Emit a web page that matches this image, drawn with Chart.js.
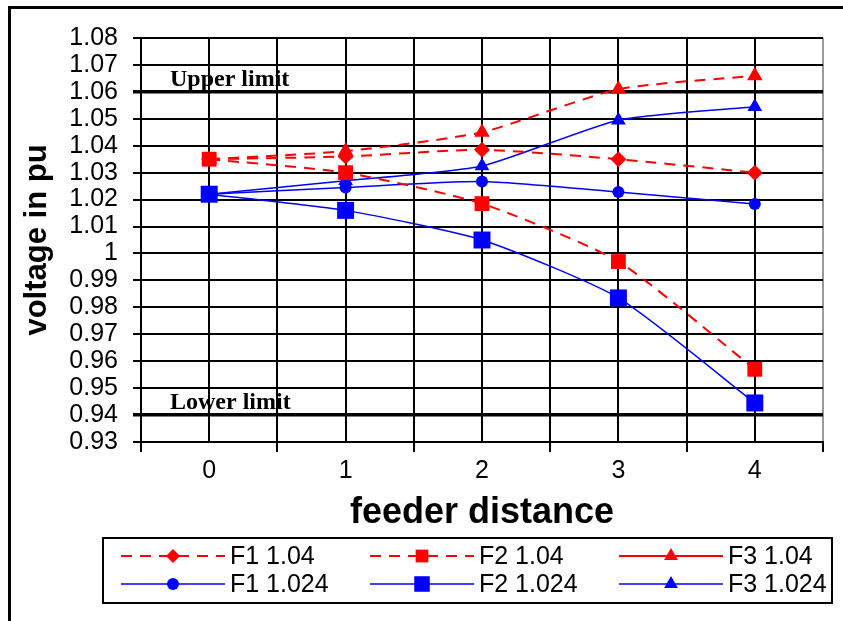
<!DOCTYPE html>
<html lang="en">
<head>
<meta charset="UTF-8">
<title>Feeder voltage profile</title>
<script src="https://cdn.jsdelivr.net/npm/chart.js"></script>
<style>
  html, body { margin: 0; padding: 0; background: #fff; }
  #wrap { width: 843px; height: 621px; }
</style>
</head>
<body>
<div id="wrap"><canvas id="voltChart" width="843" height="621"></canvas></div>
<script>
// feeder positions (x axis categories)
const categories = [0, 1, 2, 3, 4];
const seriesNames = ['F1 1.04', 'F2 1.04', 'F3 1.04', 'F1 1.024', 'F2 1.024', 'F3 1.024'];

// voltage in pu
const f1High = [1.035, 1.036, 1.0385, 1.035, 1.030];
const f2High = [1.035, 1.030, 1.0185, 0.997, 0.957];
const f3High = [1.035, 1.038, 1.045, 1.061, 1.066];
const f1Low = [1.022, 1.0245, 1.0267, 1.0228, 1.0184];
const f2Low = [1.022, 1.016, 1.005, 0.9835, 0.9445];
const f3Low = [1.022, 1.027, 1.0325, 1.0495, 1.0545];

// y axis range and the two voltage limits
const yMin = 0.93, yMax = 1.08, yStep = 0.01;
const limitValues = [1.06, 0.94];
const limitNames = ['Upper limit', 'Lower limit'];

const seriesData = [f1High, f2High, f3High, f1Low, f2Low, f3Low];

const RED = '#ff0000', BLUE = '#0000ff';
const styles = [
    { color: RED, dash: [11, 8], legendDash: [11, 8], width: 2, point: 'rectRot', r: 8, lr: 7 },
    { color: RED, dash: [11, 8], legendDash: [11, 8], width: 2, point: 'rect', r: 10.5, lr: 9 },
    { color: RED, dash: [11, 8], legendDash: [], width: 2, point: 'triangle', r: 9, lr: 8 },
    { color: BLUE, dash: [], legendDash: [], width: 1.5, point: 'circle', r: 6, lr: 6 },
    { color: BLUE, dash: [], legendDash: [], width: 1.5, point: 'rect', r: 12, lr: 11 },
    { color: BLUE, dash: [], legendDash: [], width: 1.5, point: 'triangle', r: 8.5, lr: 8 }
];

const datasets = seriesNames.map((name, i) => ({
    label: name,
    data: categories.map((c, j) => ({ x: c, y: seriesData[i][j] })),
    borderColor: styles[i].color,
    backgroundColor: styles[i].color,
    pointBackgroundColor: styles[i].color,
    pointBorderColor: styles[i].color,
    borderWidth: styles[i].width,
    borderDash: styles[i].dash,
    pointStyle: styles[i].point,
    pointRadius: styles[i].r,
    pointBorderWidth: 0,
    tension: 0.2,
    legendDash: styles[i].legendDash,
    legendRadius: styles[i].lr
}));

function isLimit(v) {
    return limitValues.some(l => Math.abs(l - v) < 1e-6);
}

// white page with the black frame round it
const frame = {
    id: 'frame',
    beforeDraw(chart) {
        const ctx = chart.ctx;
        ctx.save();
        ctx.fillStyle = '#fff';
        ctx.fillRect(0, 0, chart.width, chart.height);
        ctx.strokeStyle = '#000';
        ctx.lineWidth = 3;
        ctx.strokeRect(9.5, 7.5, 900, 700);
        ctx.restore();
    }
};

// "Upper limit" / "Lower limit" captions sitting on the limit lines
const limitText = {
    id: 'limitText',
    afterDatasetsDraw(chart) {
        const ctx = chart.ctx;
        const y = chart.scales.y;
        ctx.save();
        ctx.fillStyle = '#000';
        ctx.font = 'bold 24px "Liberation Serif", "Times New Roman", serif';
        ctx.textBaseline = 'alphabetic';
        limitValues.forEach((v, i) => {
            ctx.fillText(limitNames[i], chart.chartArea.left + 29, y.getPixelForValue(v) - 6);
        });
        ctx.restore();
    }
};

// boxed legend: 3 columns x 2 rows, line sample with marker in the middle
const boxLegend = {
    id: 'boxLegend',
    afterDraw(chart) {
        const ctx = chart.ctx;
        ctx.save();
        ctx.strokeStyle = '#000';
        ctx.lineWidth = 2;
        ctx.strokeRect(103, 538, 729, 65);
        chart.data.datasets.forEach((ds, i) => {
            const col = i % 3, row = Math.floor(i / 3);
            const x0 = 121 + col * 249, y = 556 + row * 28;
            ctx.beginPath();
            ctx.setLineDash(ds.legendDash);
            ctx.strokeStyle = ds.borderColor;
            ctx.lineWidth = ds.borderWidth;
            ctx.moveTo(x0, y);
            ctx.lineTo(x0 + 104, y);
            ctx.stroke();
            ctx.setLineDash([]);
            ctx.fillStyle = ds.borderColor;
            Chart.helpers.drawPoint(ctx, {
                pointStyle: ds.pointStyle, radius: ds.legendRadius, borderWidth: 0, rotation: 0
            }, x0 + 52, y);
            ctx.fillStyle = '#000';
            ctx.font = '25px "Liberation Sans", Arial, sans-serif';
            ctx.textBaseline = 'middle';
            ctx.fillText(ds.label, x0 + 109, y + 1);
        });
        ctx.restore();
    }
};

new Chart(document.getElementById('voltChart'), {
    type: 'line',
    data: { datasets: datasets },
    options: {
        responsive: false,
        animation: false,
        devicePixelRatio: 1,
        layout: { padding: { left: 0, top: 38, right: 20, bottom: 83 } },
        plugins: {
            legend: { display: false },
            tooltip: { enabled: false }
        },
        scales: {
            x: {
                type: 'linear',
                min: -0.5,
                max: 4.5,
                afterFit: s => { s.height = 96; },
                ticks: {
                    stepSize: 0.5,
                    autoSkip: false,
                    maxRotation: 0,
                    padding: 4,
                    color: '#000',
                    font: { family: '"Liberation Sans", Arial, sans-serif', size: 25 },
                    callback: v => Number.isInteger(v) ? String(categories[v]) : ''
                },
                grid: {
                    color: c => c.tick && c.tick.value === 4.5 ? '#999' : '#000',
                    lineWidth: 2,
                    tickLength: 10,
                    tickColor: c => c.tick && Number.isInteger(c.tick.value) ? 'rgba(0,0,0,0)' : '#000'
                },
                border: { color: '#000', width: 2 },
                title: {
                    display: true,
                    text: 'feeder distance',
                    color: '#000',
                    font: { family: 'Arial, "Liberation Sans", sans-serif', size: 36, weight: 'bold' },
                    padding: { top: 0, bottom: 3 }
                }
            },
            y: {
                min: yMin,
                max: yMax,
                afterFit: s => { s.width = 141; },
                ticks: {
                    stepSize: yStep,
                    autoSkip: false,
                    padding: 15,
                    color: '#000',
                    font: { family: '"Liberation Sans", Arial, sans-serif', size: 25, lineHeight: 1 },
                    callback: v => String(Number(v.toFixed(2)))
                },
                grid: {
                    color: '#000',
                    lineWidth: c => c.tick && isLimit(c.tick.value) ? 3.5 : 2,
                    tickLength: 8
                },
                border: { color: '#000', width: 2 },
                title: {
                    display: true,
                    text: 'voltage in pu',
                    color: '#000',
                    font: { family: 'Arial, "Liberation Sans", sans-serif', size: 31, weight: 'bold' },
                    padding: { top: 19, bottom: 0 }
                }
            }
        }
    },
    plugins: [frame, limitText, boxLegend]
});
</script>
</body>
</html>
